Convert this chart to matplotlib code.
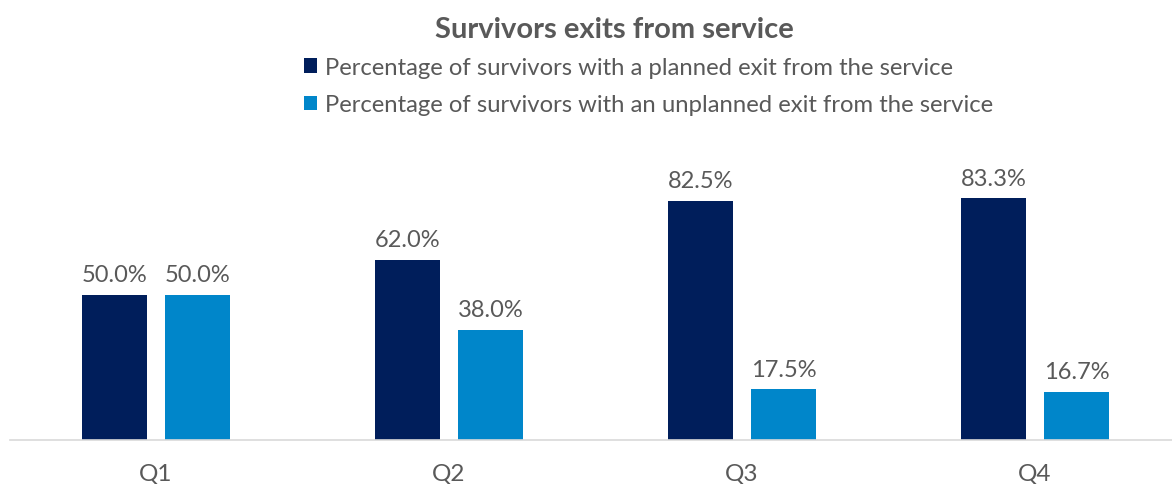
import numpy as np
import matplotlib.pyplot as plt

plt.rcParams['font.family'] = ['Lato', 'DejaVu Sans']

quarters = ['Q1', 'Q2', 'Q3', 'Q4']
planned = [50.0, 62.0, 82.5, 83.3]
unplanned = [50.0, 38.0, 17.5, 16.7]
series_names = ['Percentage of survivors with a planned exit from the service',
                'Percentage of survivors with an unplanned exit from the service']

dark = '#001E5B'
light = '#0086CA'
txt = '#595959'

fig = plt.figure(figsize=(11.72, 4.85), dpi=100)
ax = fig.add_axes([9.5 / 1172, 44 / 485, 1 - 9.5 / 1172, 290 / 485])

x = np.arange(len(quarters))
w = 0.222
off = 0.1416
b1 = ax.bar(x - off, planned, w, color=dark, label=series_names[0])
b2 = ax.bar(x + off, unplanned, w, color=light, label=series_names[1])

for bars, vals in ((b1, planned), (b2, unplanned)):
    for r, v in zip(bars, vals):
        ax.annotate(f'{v:.1f}%', (r.get_x() + r.get_width() / 2, v),
                    xytext=(0, 7), textcoords='offset points',
                    ha='center', va='bottom', fontsize=17, color=txt)

ax.set_xlim(-0.5, (1172 - 9.5) / 293 - 0.5)
ax.set_ylim(0, 100)
ax.set_xticks(x)
ax.set_xticklabels(quarters, fontsize=17.5, color=txt)
ax.tick_params(axis='x', length=0, pad=16)
ax.set_yticks([])
for s in ['top', 'right', 'left']:
    ax.spines[s].set_visible(False)
ax.spines['bottom'].set_color('#D9D9D9')
ax.spines['bottom'].set_linewidth(1.2)

fig.text(614 / 1172, 1 - 30 / 485, 'Survivors exits from service', ha='center', va='center',
         fontsize=21, fontweight='bold', color=txt)

leg = fig.legend(handles=[b1, b2], loc='upper left', bbox_to_anchor=(304 / 1172, 1 - 58 / 485),
                 frameon=False, fontsize=17.2, handlelength=0.55, handleheight=0.55,
                 handletextpad=0.35, labelspacing=0.68, borderpad=0, borderaxespad=0)
for t in leg.get_texts():
    t.set_color(txt)

fig.savefig('out.png', dpi=100)
